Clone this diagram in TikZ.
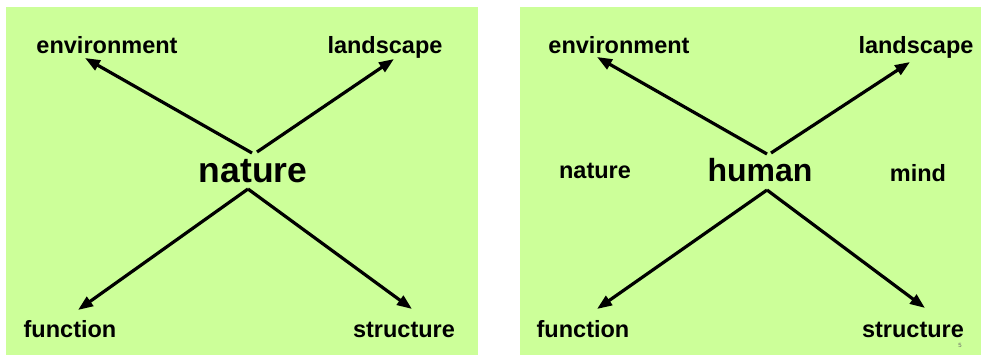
\documentclass[tikz,border=0pt]{standalone}
\usepackage{fontspec}
\setmainfont{Liberation Sans}
\usetikzlibrary{arrows.meta}
\definecolor{panelgreen}{RGB}{204,255,153}
\tikzset{
  panel/.style={fill=panelgreen,draw=none},
  lbl/.style={anchor=base,inner sep=0pt,font=\bfseries\fontsize{23.5}{26}\selectfont},
  hublbl/.style={anchor=base,inner sep=0pt,font=\bfseries\fontsize{#1}{40}\selectfont},
  arr/.style={line width=3.2pt,-{Triangle[length=15pt,width=11pt]}},
}

\begin{document}
\begin{tikzpicture}[x=1pt,y=-1pt]
  \useasboundingbox (0,0) rectangle (988,358);
  \fill[panel] (6,7) rectangle (478,355);
  \fill[panel] (520,7) rectangle (981,355);
  % left panel
  \node[lbl] (envL) at (107,54) {environment};
  \node[lbl] (lscL) at (385,54) {landscape};
  \node[hublbl=35.5] (natL) at (253,183) {nature};
  \node[lbl] (funL) at (70,337) {function};
  \node[lbl] (strL) at (404,337) {structure};
  % right panel
  \node[lbl] (envR) at (619,54) {environment};
  \node[lbl] (lscR) at (916,54) {landscape};
  \node[lbl] (natR) at (595,179) {nature};
  \node[hublbl=32] (humR) at (760,182) {human};
  \node[lbl] (minR) at (918,182) {mind};
  \node[lbl] (funR) at (583,337) {function};
  \node[lbl] (strR) at (913,337) {structure};
  \node[anchor=base,inner sep=0pt,font=\fontsize{6}{7}\selectfont,text=black!60] (pgno) at (960,347) {5};
  % hubs and arrow tips
  \coordinate (hLa) at (252,153); \coordinate (hLb) at (257,152); \coordinate (hLc) at (248,189);
  \coordinate (hRa) at (767,154); \coordinate (hRb) at (771,153); \coordinate (hRc) at (767,190);
  \coordinate (tEnvL) at (85,58);  \coordinate (tLscL) at (394,59);
  \coordinate (tFunL) at (78,310); \coordinate (tStrL) at (412,309);
  \coordinate (tEnvR) at (597,57); \coordinate (tLscR) at (910,62);
  \coordinate (tFunR) at (597,309); \coordinate (tStrR) at (925,308);
  \foreach \s/\t in {hLa/tEnvL,hLb/tLscL,hLc/tFunL,hLc/tStrL,hRa/tEnvR,hRb/tLscR,hRc/tFunR,hRc/tStrR}
    \draw[arr] (\s) -- (\t);
\end{tikzpicture}
\end{document}
